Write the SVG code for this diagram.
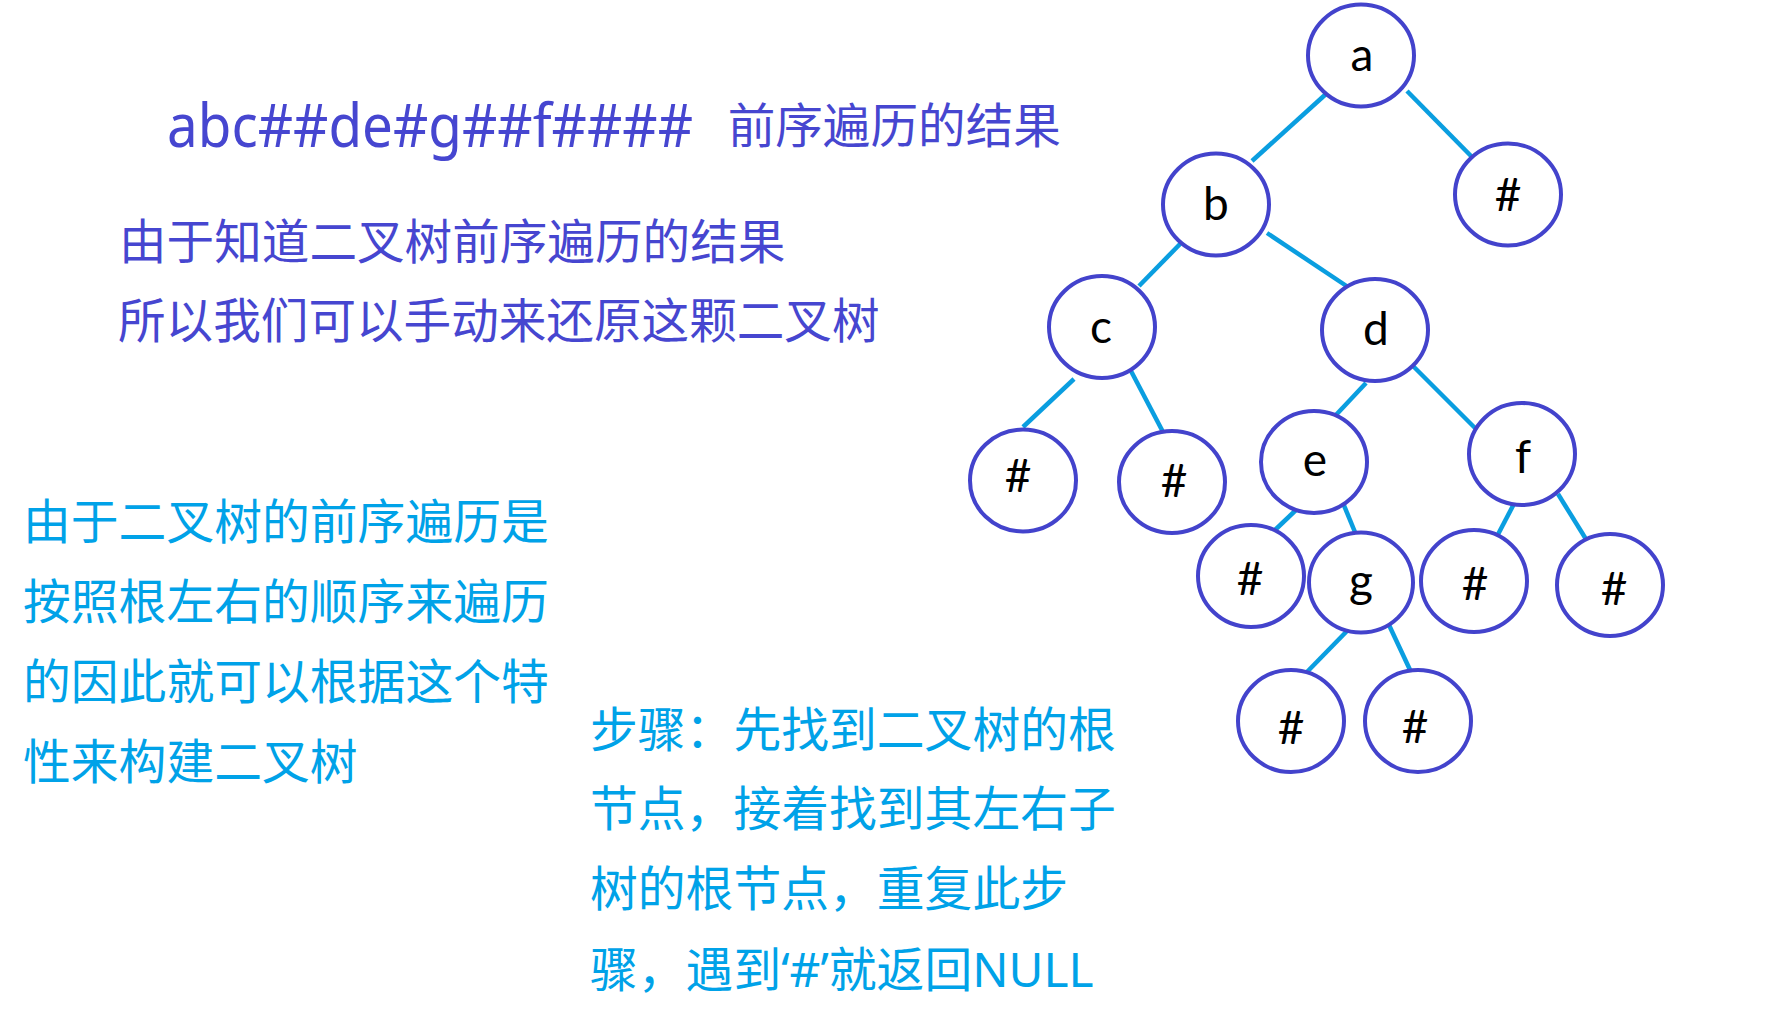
<svg xmlns="http://www.w3.org/2000/svg" width="1770" height="1020" viewBox="0 0 1770 1020">
<style>
.node ellipse{fill:#fff;stroke:#4343cc;stroke-width:4}
.node text{font-family:Lato,"Liberation Sans",sans-serif;font-size:46px;fill:#000;text-anchor:middle}
.edges line{stroke:#0a9ee0;stroke-width:4.5;stroke-linecap:butt}
.purple{font-family:"Noto Sans CJK SC",sans-serif;font-size:47.6px;fill:#4646d0}
.cyan{font-family:"Noto Sans","Noto Sans CJK SC",sans-serif;font-size:47.8px;fill:#00a2e8}
</style>
<rect width="1770" height="1020" fill="#fff"/>
<text class="purple"><tspan x="167" y="147" font-family="'Noto Sans',Lato,sans-serif" font-size="60" textLength="526" lengthAdjust="spacingAndGlyphs">abc##de#g##f####</tspan><tspan x="717" y="143"> 前序遍历的结果</tspan></text>
<text class="purple" x="119" y="259">由于知道二叉树前序遍历的结果</text>
<text class="purple" x="118" y="338">所以我们可以手动来还原这颗二叉树</text>
<g class="cyan">
<text x="23" y="539">由于二叉树的前序遍历是</text>
<text x="23" y="619">按照根左右的顺序来遍历</text>
<text x="23" y="699">的因此就可以根据这个特</text>
<text x="23" y="779">性来构建二叉树</text>
</g>
<g class="cyan">
<text x="590" y="747">步骤：先找到二叉树的根</text>
<text x="590" y="826">节点，接着找到其左右子</text>
<text x="590" y="906">树的根节点，重复此步</text>
<text x="590" y="987">骤，遇到‘#’就返回NULL</text>
</g>
<g class="edges" id="edges">
<line x1="1326" y1="94" x2="1252" y2="161"/>
<line x1="1407" y1="91" x2="1472" y2="157"/>
<line x1="1183" y1="241" x2="1139" y2="286"/>
<line x1="1267" y1="233" x2="1348" y2="287"/>
<line x1="1074" y1="379" x2="1023" y2="427"/>
<line x1="1131" y1="371" x2="1163" y2="432"/>
<line x1="1366" y1="383" x2="1335" y2="416"/>
<line x1="1413" y1="366" x2="1475" y2="428"/>
<line x1="1297" y1="509" x2="1275" y2="530"/>
<line x1="1343" y1="503" x2="1357" y2="537"/>
<line x1="1516" y1="500" x2="1494" y2="542"/>
<line x1="1558" y1="494" x2="1589" y2="544"/>
<line x1="1347" y1="631" x2="1305" y2="674"/>
<line x1="1389" y1="625" x2="1411" y2="672"/>
</g>
<g class="node" id="node-a"><ellipse cx="1361" cy="55.5" rx="53" ry="51"/><text x="1362" y="71">a</text></g>
<g class="node" id="node-b"><ellipse cx="1216" cy="204.5" rx="53" ry="51"/><text x="1216" y="220">b</text></g>
<g class="node" id="node-a-right"><ellipse cx="1508" cy="194.5" rx="53" ry="51"/><text x="1508" y="211">#</text></g>
<g class="node" id="node-c"><ellipse cx="1102" cy="327" rx="53" ry="51"/><text x="1101" y="343">c</text></g>
<g class="node" id="node-d"><ellipse cx="1375" cy="330" rx="53" ry="51"/><text x="1376" y="345">d</text></g>
<g class="node" id="node-c-left"><ellipse cx="1023" cy="480.5" rx="53" ry="51"/><text x="1018" y="492">#</text></g>
<g class="node" id="node-c-right"><ellipse cx="1172" cy="482" rx="53" ry="51"/><text x="1174" y="497">#</text></g>
<g class="node" id="node-e"><ellipse cx="1314" cy="462" rx="53" ry="51"/><text x="1315" y="476">e</text></g>
<g class="node" id="node-f"><ellipse cx="1522" cy="454" rx="53" ry="51"/><text x="1523" y="473">f</text></g>
<g class="node" id="node-e-left"><ellipse cx="1251" cy="576" rx="53" ry="51"/><text x="1250" y="595">#</text></g>
<g class="node" id="node-g"><ellipse cx="1361" cy="582.5" rx="52" ry="50"/><text x="1361" y="597">g</text></g>
<g class="node" id="node-f-left"><ellipse cx="1474" cy="581" rx="53" ry="51"/><text x="1475" y="600">#</text></g>
<g class="node" id="node-f-right"><ellipse cx="1610" cy="585" rx="53" ry="51"/><text x="1614" y="605">#</text></g>
<g class="node" id="node-g-left"><ellipse cx="1291" cy="721" rx="53" ry="51"/><text x="1291" y="744">#</text></g>
<g class="node" id="node-g-right"><ellipse cx="1418" cy="721" rx="53" ry="51"/><text x="1415" y="743">#</text></g>
</svg>
